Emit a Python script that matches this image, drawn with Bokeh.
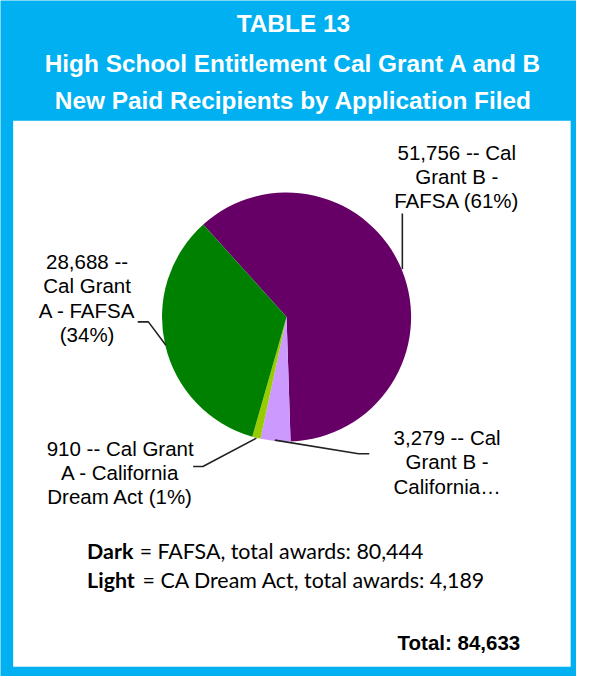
import math
from bokeh.plotting import figure
from bokeh.models import Range1d
from bokeh.core.properties import value
from bokeh.embed import file_html
from bokeh.resources import INLINE

# ---- data ----
title_lines = ["TABLE 13",
               "High School Entitlement Cal Grant A and B",
               "New Paid Recipients by Application Filed"]
slice_names = ["Cal Grant B - FAFSA", "Cal Grant B - California Dream Act",
               "Cal Grant A - California Dream Act", "Cal Grant A - FAFSA"]
slice_values = [51756, 3279, 910, 28688]
slice_colors = ["#660066", "#CC99FF", "#99CC00", "#008000"]
label_lines = [
    ["51,756 -- Cal", "Grant B -", "FAFSA (61%)"],
    ["3,279 -- Cal", "Grant B -", "California\u2026"],
    ["910 -- Cal Grant", "A - California", "Dream Act (1%)"],
    ["28,688 --", "Cal Grant", "A - FAFSA", "(34%)"],
]
note_bold = ["Dark", "Light"]
note_rest = ["= FAFSA, total awards: 80,444", "= CA Dream Act, total awards: 4,189"]
total_text = "Total:  84,633"

W, H = 576, 676
SX, SY = W / 592.0, H / 692.0
FS = (SX + SY) / 2
BLUE = "#00B0F0"


def X(rx):
    return rx * SX


def Y(ry):
    return H - ry * SY


def px(size):
    return "%.1fpx" % (size * FS)


p = figure(width=W, height=H, output_backend="svg", toolbar_location=None,
           x_range=Range1d(0, W), y_range=Range1d(0, H), min_border=0)
p.axis.visible = False
p.grid.visible = False
p.outline_line_color = None
p.background_fill_color = BLUE
p.border_fill_color = BLUE

# white panel
p.quad(left=X(13), right=X(586), top=Y(123), bottom=Y(682),
       fill_color="white", line_color=None)

# title
for ry, t in zip([24, 64, 102.5], title_lines):
    p.text(x=[X(301)], y=[Y(ry)], text=[t], text_color="white",
           text_font=value("Liberation Sans"), text_font_style="bold",
           text_font_size=px(25), text_align="center", text_baseline="middle")

# pie
cx, cy, r = X(294), Y(324), 128 * SX
total = sum(slice_values)
start_cw = 318.0  # clockwise degrees from 12 o'clock
starts, ends = [], []
cum = 0.0
for v in slice_values:
    a0 = start_cw + cum / total * 360.0
    cum += v
    a1 = start_cw + cum / total * 360.0
    starts.append(math.radians(90 - a0))
    ends.append(math.radians(90 - a1))
p.wedge(x=[cx] * 4, y=[cy] * 4, radius=r, start_angle=starts, end_angle=ends,
        direction="clock", fill_color=slice_colors, line_color=None)

# data labels
label_pos = [(469, [155.5, 180.5, 204.5]),
             (459, [447, 472, 497]),
             (123, [459, 483, 507.5]),
             (89, [267.5, 292, 317.5, 342])]
for lines, (lx, ys) in zip(label_lines, label_pos):
    for ry, t in zip(ys, lines):
        p.text(x=[X(lx)], y=[Y(ry)], text=[t], text_color="black",
               text_font=value("Liberation Sans"), text_font_size=px(21),
               text_align="center", text_baseline="middle")

# leader lines
leaders = [
    ([413, 413], [218, 275]),
    ([282, 368, 379], [450, 464, 464]),
    ([198, 208, 263], [477, 477, 448]),
    ([141, 152, 170], [329, 329, 353]),
]
for xs, ys in leaders:
    p.line(x=[X(v) for v in xs], y=[Y(v) for v in ys], line_color="#222222",
           line_width=1.6)

# notes
for ry, b, rest, rx2 in zip([564, 593], note_bold, note_rest, [143, 146]):
    p.text(x=[X(89)], y=[Y(ry)], text=[b], text_color="black",
           text_font=value("Lato"), text_font_style="bold",
           text_font_size=px(22), text_align="left", text_baseline="middle")
    p.text(x=[X(rx2)], y=[Y(ry)], text=[rest], text_color="black",
           text_font=value("Lato"), text_font_size=px(22),
           text_align="left", text_baseline="middle")

p.text(x=[X(540)], y=[Y(657)], text=[total_text], text_color="black",
       text_font=value("Liberation Sans"), text_font_style="bold",
       text_font_size=px(21), text_align="right", text_baseline="middle")

open("out.html", "w").write(file_html(p, INLINE))
